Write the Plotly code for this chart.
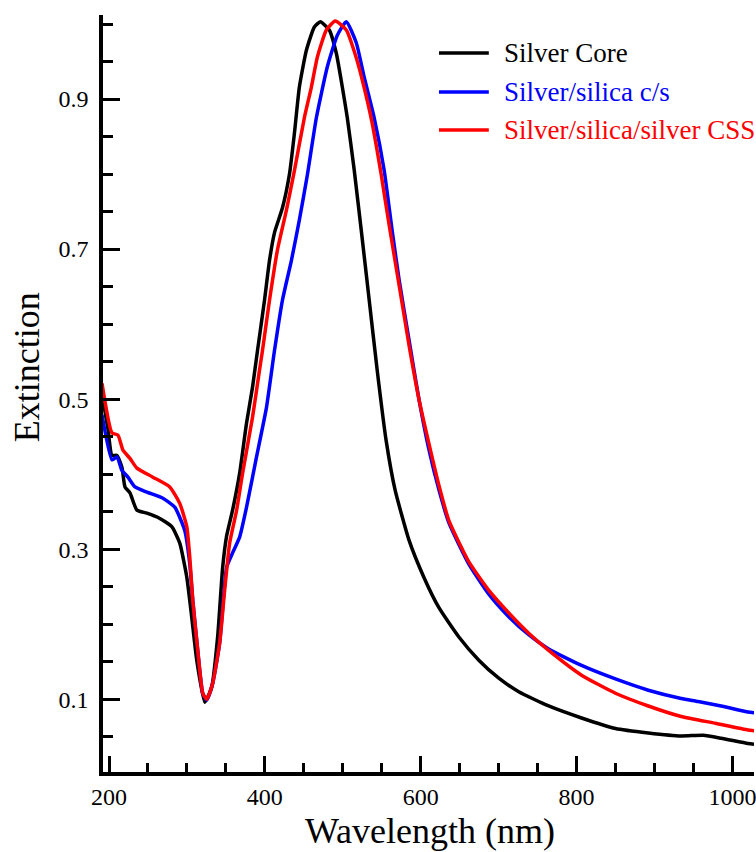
import plotly.graph_objects as go

# ---- data ----
core_wl = [192.3, 198.7, 203.8, 210.2, 216.6, 220.5, 226.9, 235.8, 248.6, 265.2, 280.6, 290.8,
           299.8, 306.2, 312.6, 322.8, 331.8, 339.4, 345.8, 351.0, 358.6, 367.6, 376.5, 384.2,
           390.6, 399.6, 406.0, 412.4, 422.6, 431.6, 438.0, 444.3, 453.3, 463.5, 471.2, 482.7,
           491.7, 499.4, 505.8, 514.7, 523.7, 533.9, 544.1, 555.6, 567.1, 585.0, 604.3, 623.4,
           649.0, 674.6, 700.2, 725.8, 764.2, 806.4, 849.9, 892.1, 934.3, 962.5, 985.5, 1020.0, 1027.8]
core_ext = [0.499, 0.460, 0.425, 0.425, 0.409, 0.383, 0.375, 0.352, 0.348, 0.341, 0.330, 0.308,
            0.263, 0.209, 0.152, 0.096, 0.116, 0.183, 0.275, 0.318, 0.352, 0.401, 0.468, 0.516,
            0.565, 0.632, 0.685, 0.722, 0.755, 0.800, 0.855, 0.916, 0.965, 0.996, 1.003, 0.992,
            0.961, 0.916, 0.875, 0.805, 0.725, 0.632, 0.539, 0.445, 0.379, 0.312, 0.262, 0.222,
            0.183, 0.152, 0.128, 0.110, 0.091, 0.075, 0.061, 0.055, 0.051, 0.052, 0.048, 0.041, 0.040]

cs_wl = [191.0, 203.8, 210.2, 216.6, 224.3, 233.3, 248.6, 269.1, 284.4, 297.2, 303.6, 307.5,
         313.9, 320.3, 325.4, 333.0, 342.0, 351.0, 358.6, 367.6, 376.5, 389.3, 402.1, 412.4,
         422.6, 434.1, 444.3, 454.6, 466.1, 480.2, 493.0, 504.5, 517.3, 527.5, 540.3, 553.1,
         563.3, 572.3, 585.0, 597.9, 610.7, 623.4, 636.2, 661.8, 687.4, 713.0, 738.6, 764.2,
         806.4, 849.9, 892.1, 934.3, 956.0, 985.5, 1020.0, 1027.8]
cs_ext = [0.479, 0.419, 0.423, 0.405, 0.396, 0.383, 0.376, 0.368, 0.356, 0.325, 0.281, 0.232,
          0.165, 0.108, 0.099, 0.121, 0.175, 0.276, 0.295, 0.316, 0.356, 0.423, 0.489, 0.565,
          0.632, 0.685, 0.739, 0.799, 0.875, 0.943, 0.985, 1.003, 0.975, 0.929, 0.875, 0.805,
          0.725, 0.659, 0.579, 0.499, 0.432, 0.379, 0.335, 0.280, 0.240, 0.210, 0.186, 0.167,
          0.145, 0.127, 0.112, 0.101, 0.097, 0.091, 0.083, 0.082]

css_wl = [191.0, 203.8, 211.5, 217.9, 226.9, 235.8, 256.3, 278.0, 290.8, 299.8, 303.6, 307.5,
          313.9, 320.3, 325.4, 333.0, 342.0, 348.4, 354.8, 363.8, 371.4, 384.2, 393.2, 397.0,
          406.0, 416.2, 427.7, 438.0, 450.7, 459.7, 467.4, 478.9, 490.4, 504.5, 517.3, 527.5,
          537.7, 549.2, 559.5, 572.3, 585.0, 597.9, 610.7, 623.4, 636.2, 661.8, 687.4, 713.0,
          738.6, 764.2, 806.4, 849.9, 892.1, 934.3, 977.8, 1020.0, 1027.8]
css_ext = [0.521, 0.455, 0.452, 0.432, 0.421, 0.408, 0.396, 0.383, 0.361, 0.330, 0.290, 0.232,
           0.165, 0.108, 0.100, 0.121, 0.175, 0.245, 0.308, 0.352, 0.401, 0.476, 0.539, 0.565,
           0.632, 0.699, 0.752, 0.805, 0.875, 0.916, 0.956, 0.992, 1.004, 0.992, 0.955, 0.915,
           0.868, 0.800, 0.732, 0.652, 0.572, 0.499, 0.440, 0.385, 0.338, 0.283, 0.245, 0.215,
           0.188, 0.165, 0.132, 0.108, 0.091, 0.077, 0.068, 0.059, 0.058]

series_names = ["Silver Core", "Silver/silica c/s", "Silver/silica/silver CSS"]
series_colors = ["#000000", "#0000FF", "#FF0000"]

x_tick_vals = [200, 400, 600, 800, 1000]
x_tick_text = ["200", "400", "600", "800", "1000"]
y_tick_vals = [0.1, 0.3, 0.5, 0.7, 0.9]
y_tick_text = ["0.1", "0.3", "0.5", "0.7", "0.9"]

FONT = "Liberation Serif, Times New Roman, serif"

fig = go.Figure()
for wl, ext, name, col in zip([core_wl, cs_wl, css_wl], [core_ext, cs_ext, css_ext],
                              series_names, series_colors):
    fig.add_trace(go.Scatter(x=wl, y=ext, mode="lines", name=name,
                             line=dict(color=col, width=3.5, shape="spline", smoothing=0.5),
                             showlegend=False, cliponaxis=True))

# manual legend (line samples + labels) in paper coordinates
L, R, T, B = 103, 756, 15, 772
W, H = R - L, B - T
def px(x): return (x - L) / W
def py(y): return (B - y) / H

legend_rows = [53, 92, 130]
for yy, name, col in zip(legend_rows, series_names, series_colors):
    fig.add_shape(type="line", xref="paper", yref="paper",
                  x0=px(440), x1=px(490), y0=py(yy), y1=py(yy),
                  line=dict(color=col, width=3.5))
    fig.add_annotation(xref="paper", yref="paper", x=px(503), y=py(yy),
                       xanchor="left", yanchor="middle", showarrow=False,
                       text=name, font=dict(family=FONT, size=27, color=col))

fig.add_annotation(xref="paper", yref="paper", x=px(27), y=py(367),
                   xanchor="center", yanchor="middle", showarrow=False, textangle=-90,
                   text="Extinction", font=dict(family=FONT, size=36, color="black"))
fig.add_annotation(xref="paper", yref="paper", x=px(431), y=py(831),
                   xanchor="center", yanchor="middle", showarrow=False,
                   text="Wavelength (nm)", font=dict(family=FONT, size=36, color="black"))

fig.update_xaxes(range=[192.3, 1027.7], tickvals=x_tick_vals, ticktext=x_tick_text,
                 ticks="inside", ticklen=16, tickwidth=3, tickcolor="black",
                 minor=dict(ticks="inside", dtick=50, tick0=200, ticklen=9, tickwidth=3,
                            tickcolor="black", showgrid=False),
                 showline=True, linewidth=3.5, linecolor="black", mirror=False,
                 showgrid=False, zeroline=False, ticklabelstandoff=0,
                 ticklabeloverflow="allow",
                 tickfont=dict(family=FONT, size=24, color="black"))
fig.update_yaxes(range=[0.003, 1.012], tickvals=y_tick_vals, ticktext=y_tick_text,
                 ticks="inside", ticklen=17, tickwidth=3, tickcolor="black",
                 minor=dict(ticks="inside", dtick=0.05, tick0=0, ticklen=10, tickwidth=3,
                            tickcolor="black", showgrid=False),
                 showline=True, linewidth=3.5, linecolor="black", mirror=False,
                 showgrid=False, zeroline=False, ticklabelstandoff=6,
                 tickfont=dict(family=FONT, size=24, color="black"))

fig.update_layout(width=756, height=852, margin=dict(l=L, r=0, t=T, b=852 - B),
                  plot_bgcolor="white", paper_bgcolor="white", showlegend=False)

fig.write_html("out.html", config={"displayModeBar": False},
               post_script="document.body.style.margin='0';"
                           "document.body.style.overflow='hidden';"
                           "document.documentElement.style.overflow='hidden';")
